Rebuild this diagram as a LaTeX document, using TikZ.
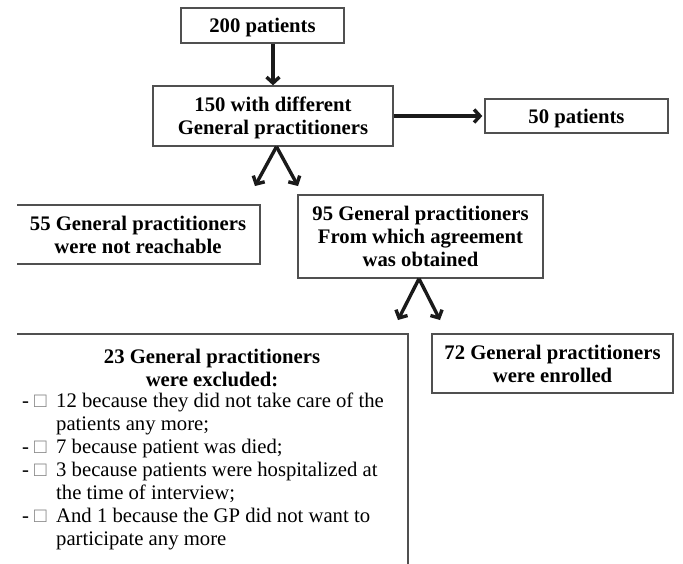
\documentclass[tikz,border=0pt]{standalone}
\usepackage{fontspec}
\setmainfont{Liberation Serif}
\usetikzlibrary{arrows.meta}
\definecolor{boxgray}{HTML}{505050}
\definecolor{arrowblack}{HTML}{1A1A1A}
\newcommand{\fsz}{\fontsize{20.7}{23}\selectfont}

\begin{document}
\begin{tikzpicture}[x=1pt, y=-1pt, box/.style={draw=boxgray, line width=1.3pt, inner sep=0pt, align=center, text depth=0pt, font=\fsz\bfseries}, n/.style={-{Straight Barb[length=6pt, width=13pt, line width=3.4pt]}, line width=3.4pt, draw=arrowblack}, txt/.style={inner sep=0pt, font=\fsz}]
                \useasboundingbox (0,0) rectangle (683,563);
                \clip (17,0) rectangle (683,563);
                % nodes
                \node[box, minimum width=163, minimum height=35] (pat200) at (262.5,25.5) {200 patients};
                \node[box, minimum width=240, minimum height=60] (gp150) at (273,116) {150 with different\\General practitioners};
                \node[box, minimum width=183, minimum height=34] (pat50) at (576.5,116) {50 patients};
                \node[box, minimum width=244, minimum height=59] (gp55) at (138,234.5) {55 General practitioners\\were not reachable};
                \node[box, minimum width=245, minimum height=83] (gp95) at (420.5,236.5) {95 General practitioners\\From which agreement\\was obtained};
                \node[box, minimum width=241, minimum height=59] (gp72) at (552.5,363.5) {72 General practitioners\\were enrolled};
                \node[box, minimum width=392, minimum height=270] (excl) at (212,469) {};
                \node[txt, font=\fsz\bfseries, align=center, anchor=north] (exclhead) at (212,349) {23 General practitioners\\were excluded:};
                \node[txt, anchor=north west] (excllist) at (22,391) {%
                  \begin{tabular}[t]{@{}p{34pt}@{}p{340pt}@{}}
                    -\kern5pt{\color{gray}□} & 12 because they did not take care of the\newline patients any more;\\
                    -\kern5pt{\color{gray}□} & 7 because patient was died;\\
                    -\kern5pt{\color{gray}□} & 3 because patients were hospitalized at\newline the time of interview;\\
                    -\kern5pt{\color{gray}□} & And 1 because the GP did not want to\newline participate any more
                  \end{tabular}};
                \coordinate (to55) at (255,186);
                \coordinate (to95) at (298,186);
                \coordinate (to23) at (398,320);
                \coordinate (to72) at (440,320);
                % edges
                \draw [n] (pat200.south -| gp150.north) -- (gp150.north);
                \draw [n, shorten >=2pt] (gp150.east) -- (pat50.west);
                \draw [n] ([xshift=3.5pt]gp150.south) -- (to55);
                \draw [n] ([xshift=3.5pt]gp150.south) -- (to95);
                \draw [n] ([xshift=-1.5pt]gp95.south) -- (to23);
                \draw [n] ([xshift=-1.5pt]gp95.south) -- (to72);
            \end{tikzpicture}
\end{document}
